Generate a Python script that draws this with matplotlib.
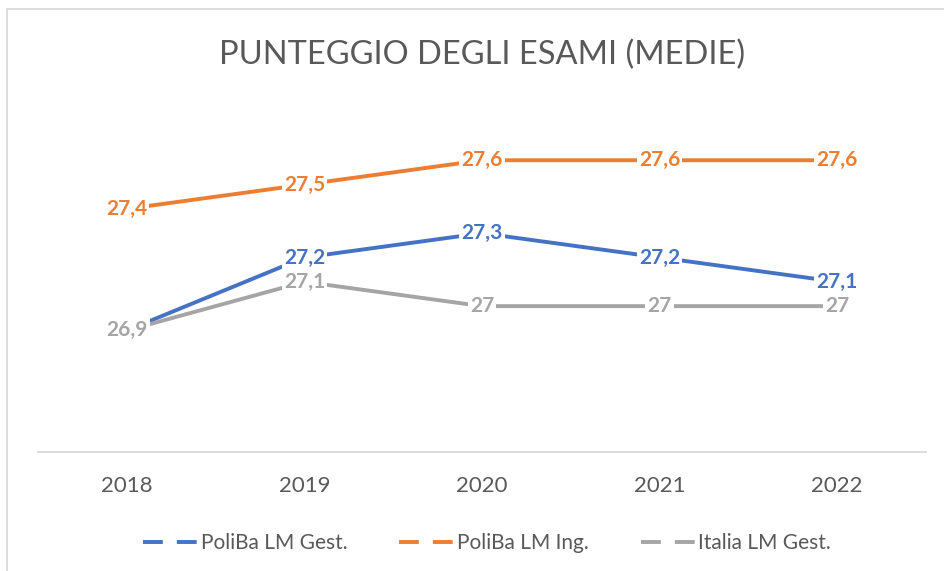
import matplotlib
matplotlib.use("Agg")
import matplotlib.pyplot as plt
from matplotlib.lines import Line2D
from matplotlib.patches import Rectangle

# dati
anni = ['2018', '2019', '2020', '2021', '2022']
poliba_gest = [26.9, 27.2, 27.3, 27.2, 27.1]
poliba_ing = [27.4, 27.5, 27.6, 27.6, 27.6]
italia_gest = [26.9, 27.1, 27.0, 27.0, 27.0]
etichette_gest = ['', '27,2', '27,3', '27,2', '27,1']
etichette_ing = ['27,4', '27,5', '27,6', '27,6', '27,6']
etichette_italia = ['26,9', '27,1', '27', '27', '27']
nomi = ['PoliBa LM Gest.', 'PoliBa LM Ing.', 'Italia LM Gest.']
colori = ['#4472C4', '#ED7D31', '#A5A5A5']

plt.rcParams['font.family'] = ['Lato', 'DejaVu Sans']
W, H = 944, 571
fig = plt.figure(figsize=(W / 100, H / 100), dpi=100)

# cornice del grafico
fig.patches.append(Rectangle((7 / W, -0.01), 1.02, (H - 9) / H + 0.01, transform=fig.transFigure,
                             fill=False, edgecolor='#D9D9D9', linewidth=1.2))

ax = fig.add_axes([38 / W, (H - 452) / H, (926 - 38) / W, (452 - 63) / H])
x = list(range(len(anni)))
serie = [poliba_gest, poliba_ing, italia_gest]
etichette = [etichette_gest, etichette_ing, etichette_italia]
for i in range(3):
    ax.plot(x, serie[i], color=colori[i], linewidth=2.8, solid_capstyle='butt', zorder=2)

# etichette dati (sfondo bianco come in Excel)
for i in [2, 0, 1]:
    for j in range(len(anni)):
        if etichette[i][j] == '':
            continue
        ax.text(x[j], serie[i][j], etichette[i][j], ha='center', va='center',
                fontsize=15, fontweight='bold', color=colori[i], zorder=5,
                bbox=dict(boxstyle='square,pad=0.1', facecolor='white', edgecolor='none'))

ax.set_xlim(-0.5, len(anni) - 0.5)
ax.set_ylim(26.4, 28.0)
ax.set_xticks(x)
ax.set_xticklabels(anni, fontsize=16, color='#595959')
ax.tick_params(axis='x', length=0, pad=17)
ax.set_yticks([])
for s in ['top', 'right', 'left']:
    ax.spines[s].set_visible(False)
ax.spines['bottom'].set_color('#D9D9D9')
ax.spines['bottom'].set_linewidth(1.3)

fig.text(482 / W, 1 - 55 / H, 'PUNTEGGIO DEGLI ESAMI (MEDIE)', ha='center', va='center',
         fontsize=23.5, color='#595959')

handles = [Line2D([], [], color=c, linewidth=2.8, dashes=(5.1, 3.6)) for c in colori]
fig.legend(handles, nomi, loc='center', bbox_to_anchor=(487 / W, 1 - 543 / H), ncol=3,
           frameon=False, fontsize=15, labelcolor='#595959', handlelength=2.6,
           handletextpad=0.15, columnspacing=2.5)

fig.savefig('out.png', dpi=100)
